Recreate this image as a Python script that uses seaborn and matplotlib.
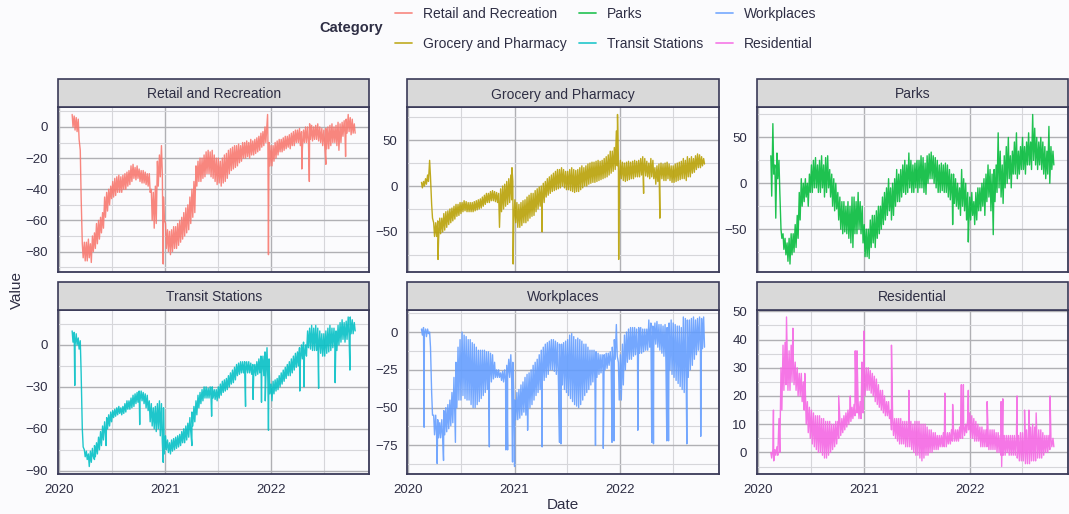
import pandas as pd
import numpy as np
import matplotlib
matplotlib.use("Agg")
import matplotlib.pyplot as plt
import matplotlib.dates as mdates
from matplotlib.ticker import MultipleLocator
from matplotlib.patches import Rectangle
from matplotlib.lines import Line2D
import seaborn as sns

# ---------------- data (weekly high / low readings + single-day spikes) ----------------
categories = ["Retail and Recreation", "Grocery and Pharmacy", "Parks",
              "Transit Stations", "Workplaces", "Residential"]
colors = ["#F8766D", "#B79F00", "#00BA38", "#00BFC4", "#619CFF", "#F564E3"]
y_steps = [20, 50, 50, 30, 25, 10]

week_start = "2020-02-15"      # first weekly reading
n_weeks = 140

retail_hi = [8, 7,
             6, 5, -15, -75, -74,  -74, -72, -75, -70,  -68, -62, -60, -58, -55,
             -45, -42, -40, -38,  -35, -33, -32, -31,  -32, -31, -30, -29, -28,
             -25, -24, -26, -25,  -27, -28, -28, -29, -30,  -30, -40, -42, -38,
             -22, -18, -12, -45,
             -62, -66, -67, -66, -64,  -64, -62, -60, -58,  -55, -52, -50, -45,
             -40, -35, -25, -22,  -20, -20, -18, -16, -15,  -16, -15, -18, -20,
             -20, -22, -20, -18, -17,  -15, -14, -13, -12,  -12, -11, -12, -10,
             -10, -9, -10, -8, -9,  -8, -7, -6, -4,  -3, 0, 2, -10,
             -12, -12, -10, -9, -8,  -8, -7, -6, -6,  -5, -4, -3, -2,
             -2, -1, -3, -2, 0,  0, 2, 1, 0,  1, 2, 0, -1,  -2, -1, 0, 1, 2,
             0, 1, 3, 2,  3, 4, 5, 8,  6, 5, 2]
retail_lo = [0, -2,
             -3, -8, -45, -84, -86,  -86, -84, -87, -80,  -78, -75, -72, -68, -65,
             -58, -54, -50, -46,  -45, -44, -42, -42,  -42, -40, -40, -38, -37,
             -35, -33, -34, -33,  -35, -36, -36, -37, -38,  -42, -60, -65, -62,
             -38, -32, -30, -60,
             -78, -80, -82, -80, -78,  -78, -76, -74, -72,  -70, -68, -66, -62,
             -58, -55, -38, -35,  -35, -33, -32, -30, -30,  -32, -33, -35, -37,
             -36, -38, -36, -35, -33,  -30, -28, -27, -26,  -25, -23, -22, -20,
             -20, -19, -20, -18, -18,  -17, -16, -15, -13,  -12, -10, -6, -25,
             -25, -22, -20, -18, -16,  -16, -15, -14, -13,  -14, -12, -12, -10,
             -10, -12, -14, -10, -10,  -10, -8, -9, -8,  -8, -9, -10, -12,
             -12, -14, -14, -12, -10,  -10, -12, -15, -10,  -6, -5, -4, -3,  -5, -4, -4]
retail_events = [("2020-12-25", -88), ("2021-12-20", 8), ("2021-12-23", -82),
                 ("2022-04-17", -27), ("2022-05-13", -35), ("2022-07-09", -24),
                 ("2022-09-15", -19)]

grocery_hi = [4, 5,
              8, 12, 28, -20, -40,  -40, -38, -35, -35,  -30, -28, -27, -25, -24,
              -22, -20, -20, -18,  -18, -16, -17, -18,  -18, -18, -17, -16, -15,
              -14, -12, -10, -8,  -8, -6, -5, -6, -7,  -8, -3, 0, 2,
              5, 8, 12, 5,
              -15, -18, -20, -18, -16,  -15, -12, -10, -8,  -8, -5, -3, -1,
              0, 3, 5, 8,  10, 12, 14, 16, 18,  18, 20, 18, 16,
              16, 18, 20, 18, 17,  18, 20, 22, 20,  22, 24, 25, 26,
              26, 27, 28, 27, 28,  30, 32, 34, 38,  38, 42, 60, 30,
              28, 26, 25, 26, 27,  26, 27, 28, 27,  28, 30, 32, 30,
              27, 25, 30, 28, 20,  22, 24, 25, 24,  25, 26, 24, 22,
              22, 24, 25, 26, 27,  30, 28, 32, 30,  32, 30, 33, 35,  34, 32, 30]
grocery_lo = [-2, 0,
              2, 5, 10, -35, -55,  -55, -58, -52, -50,  -48, -45, -42, -40, -38,
              -36, -33, -32, -30,  -28, -27, -28, -28,  -28, -28, -27, -26, -25,
              -24, -22, -20, -18,  -18, -16, -16, -17, -18,  -45, -28, -25, -22,
              -20, -18, -15, -40,
              -40, -45, -45, -43, -40,  -40, -38, -35, -33,  -32, -28, -25, -22,
              -22, -18, -12, -10,  -8, -6, -5, -4, -3,  -2, 0, -2, -4,
              -4, -5, -6, -7, -6,  -6, -4, -2, 0,  0, 2, 3, 4,
              4, 5, 6, 7, 8,  9, 10, 12, 14,  16, 18, 22, 5,
              8, 6, 5, 6, 7,  8, 8, 10, 10,  10, 12, 12, 11,
              10, 8, 10, 8, 2,  5, 6, 8, 6,  6, 8, 6, 4,
              4, 5, 6, 7, 8,  8, 6, 10, 10,  14, 15, 18, 20,  20, 22, 24]
grocery_events = [("2020-04-12", -80), ("2020-12-23", 20), ("2020-12-27", -85),
                  ("2021-04-06", -50), ("2021-12-22", 78), ("2021-12-26", -80),
                  ("2022-03-22", -8), ("2022-05-17", -35)]

parks_hi = [30, 65,
            20, 33, 25, -50, -55,  -60, -65, -60, -55,  -55, -45, -35, -10, 5,
            0, 5, 0, 10,  20, 25, 28, 20,  25, 30, 20, 28, 30,
            15, 10, 5, 0,  -10, -15, -20, -20, -25,  -20, -25, -15, -15,
            -20, -10, -20, -25,
            -45, -50, -50, -40, -35,  -35, -30, -25, -25,  -15, -10, -5, 5,
            -5, 0, 5, 15,  10, 15, 20, 25, 20,  33, 25, 20, 22,
            25, 25, 30, 28, 22,  30, 32, 34, 30,  28, 25, 20, 22,
            20, 22, 20, 15, 10,  10, 5, 0, -5,  15, 5, 0, -10,
            -15, -10, -20, -10, -5,  -5, 0, 5, 10,  20, 15, 10, 15,
            20, 55, 35, 20, 30,  40, 50, 30, 35,  45, 55, 35, 40,
            50, 40, 45, 55, 45,  75, 60, 50, 45,  50, 45, 40, 35,  62, 40, 35]
parks_lo = [-14, 10,
            -38, 5, -10, -60, -72,  -78, -85, -88, -78,  -75, -70, -60, -40, -25,
            -20, -15, -25, -10,  -10, -5, -5, -10,  -10, -5, -15, -10, -5,
            -15, -25, -30, -28,  -40, -50, -55, -53, -55,  -60, -65, -70, -55,
            -55, -50, -55, -65,
            -80, -80, -82, -70, -65,  -70, -60, -55, -50,  -45, -40, -35, -30,
            -40, -35, -25, -20,  -20, -15, -10, -12, -10,  -5, -10, -10, -5,
            -10, -5, -5, -10, -12,  0, 5, 5, 0,  -5, -10, -10, -8,
            -10, -10, -15, -18, -20,  -22, -25, -28, -35,  -25, -30, -40, -50,
            -40, -35, -45, -40, -30,  -30, -25, -35, -20,  -15, -30, -40, -20,
            -10, -5, -15, -22, -5,  0, 5, -5, 10,  10, 5, 10, 15,
            15, 10, 20, 20, 15,  25, 20, 15, 20,  15, 10, 5, 10,  0, 15, 20]
parks_events = [("2021-11-03", -45), ("2021-12-27", -64), ("2022-03-23", -56)]

transit_hi = [10, 9,
              8, 5, 3, -60, -75,  -76, -78, -76, -74,  -72, -70, -66, -62, -58,
              -55, -52, -50, -48,  -47, -46, -45, -44,  -45, -44, -42, -40, -40,
              -38, -36, -35, -34,  -33, -33, -34, -35, -36,  -40, -42, -45, -44,
              -42, -40, -42, -45,
              -65, -68, -70, -68, -67,  -66, -65, -64, -62,  -60, -58, -56, -52,
              -48, -44, -40, -36,  -34, -32, -30, -30, -31,  -30, -30, -32, -32,
              -30, -28, -26, -25, -24,  -22, -20, -18, -16,  -14, -13, -12, -12,
              -12, -12, -12, -13, -14,  -14, -12, -10, -8,  -8, -5, -2, -10,
              -28, -26, -25, -24, -22,  -20, -18, -16, -14,  -12, -10, -8, -6,
              -5, -2, 0, 2, 0,  10, 12, 14, 12,  14, 12, 10, 8,
              8, 10, 12, 14, 12,  12, 10, 14, 16,  18, 16, 17, 20,  20, 18, 16]
transit_lo = [2, 0,
              0, -3, -20, -73, -80,  -82, -87, -84, -80,  -80, -78, -75, -72, -68,
              -64, -60, -58, -55,  -52, -51, -50, -49,  -50, -49, -48, -46, -46,
              -45, -44, -42, -41,  -40, -40, -42, -45, -47,  -55, -58, -60, -62,
              -60, -65, -70, -78,
              -75, -77, -78, -76, -75,  -74, -73, -72, -70,  -70, -68, -66, -62,
              -58, -55, -50, -45,  -42, -40, -38, -38, -38,  -38, -38, -39, -40,
              -38, -36, -34, -33, -32,  -30, -28, -27, -25,  -22, -21, -20, -20,
              -20, -20, -20, -21, -22,  -22, -21, -20, -20,  -22, -24, -26, -35,
              -40, -35, -33, -32, -30,  -28, -26, -24, -22,  -22, -20, -18, -16,
              -15, -12, -10, -8, -8,  -2, -3, -4, -4,  -4, -6, -6, -8,
              -8, -6, -5, -4, -2,  -2, -4, 0, 2,  4, 2, 4, 6,  8, 8, 10]
transit_events = [("2020-02-24", -29), ("2020-05-02", -82), ("2020-06-11", -72),
                  ("2020-10-05", -57), ("2020-12-25", -84), ("2021-04-03", -72),
                  ("2021-06-10", -51), ("2021-10-05", -44), ("2021-10-31", -39),
                  ("2021-11-29", -41), ("2021-12-12", -40), ("2021-12-23", -61),
                  ("2022-04-10", -33), ("2022-04-25", -30), ("2022-06-14", -31),
                  ("2022-08-10", -27), ("2022-09-30", -18)]

work_hi = [2, 3,
           2, 2, 0, -40, -55,  -55, -58, -60, -58,  -52, -50, -48, -45, -40,
           -30, -20, -10, -5,  0, -2, -3, -5,  -5, -7, -8, -10, -12,
           -12, -12, -12, -13,  -13, -14, -15, -20, -25,  -25, -27, -26, -25,
           -22, -18, -15, -20,
           -45, -40, -38, -35, -33,  -30, -28, -27, -25,  -22, -20, -18, -15,
           -12, -10, -8, -7,  -6, -5, -5, -6, -7,  -8, -8, -7, -6,
           -5, -2, -1, -3, -5,  -4, -5, -6, -8,  -8, -10, -12, -12,
           -12, -13, -14, -15, -15,  -15, -14, -14, -13,  -10, -5, 5, -20,
           -15, -8, -2, 0, 2,  3, 3, 3, 2,  3, 3, 2, 2,
           2, 8, 6, 4, 6,  7, 5, 5, 4,  5, 3, 6, 8,
           6, 5, 4, 4, 3,  10, 9, 8, 8,  9, 10, 8, 9,  10, 9, 10]
work_lo = [-2, -1,
           -3, -1, -10, -55, -68,  -68, -70, -70, -70,  -68, -66, -64, -62, -60,
           -55, -50, -45, -45,  -42, -44, -45, -45,  -48, -50, -50, -48, -46,
           -44, -42, -40, -38,  -35, -33, -31, -30, -30,  -30, -32, -33, -32,
           -30, -30, -32, -40,
           -58, -58, -57, -55, -53,  -55, -52, -50, -48,  -45, -42, -40, -38,
           -35, -32, -30, -28,  -25, -25, -26, -28, -30,  -32, -35, -38, -40,
           -42, -44, -46, -48, -49,  -50, -48, -45, -42,  -40, -38, -35, -33,
           -32, -30, -28, -27, -26,  -25, -24, -22, -20,  -20, -18, -16, -45,
           -45, -35, -25, -20, -18,  -18, -16, -15, -15,  -14, -14, -13, -12,
           -12, -10, -10, -10, -8,  -10, -12, -14, -16,  -20, -22, -25, -28,
           -30, -32, -34, -36, -38,  -40, -35, -30, -25,  -22, -18, -15, -12,  -12, -11, -10]
work_events = [("2020-02-24", -63), ("2020-04-09", -87), ("2020-05-01", -85),
               ("2020-06-11", -73), ("2020-10-06", -76), ("2020-12-02", -78),
               ("2020-12-08", -78), ("2020-12-25", -86), ("2021-01-01", -89),
               ("2021-02-15", -65), ("2021-04-06", -76), ("2021-06-05", -73),
               ("2021-06-10", -74), ("2021-10-07", -75), ("2021-11-03", -77),
               ("2021-12-03", -73), ("2021-12-10", -72), ("2022-03-02", -65),
               ("2022-04-19", -73), ("2022-04-25", -74), ("2022-06-10", -72),
               ("2022-06-16", -72), ("2022-08-18", -74), ("2022-10-05", -69)]

resid_hi = [0, 1,
            1, 2, 12, 30, 38,  39, 38, 36, 38,  35, 32, 30, 28, 28,
            25, 22, 18, 16,  15, 14, 13, 13,  13, 12, 12, 11, 11,
            11, 10, 10, 11,  11, 12, 12, 13, 14,  15, 16, 16, 17,
            20, 18, 18, 20,
            31, 30, 30, 29, 28,  27, 26, 24, 22,  22, 20, 18, 18,
            15, 13, 12, 12,  12, 12, 11, 11, 11,  11, 11, 10, 11,
            11, 11, 10, 10, 10,  9, 8, 8, 7,  7, 6, 6, 6,
            7, 7, 7, 7, 8,  8, 8, 8, 9,  10, 10, 10, 12,
            14, 13, 12, 11, 10,  9, 9, 8, 8,  8, 8, 8, 8,
            7, 7, 6, 6, 6,  6, 6, 6, 6,  6, 6, 6, 7,
            7, 7, 8, 8, 9,  10, 9, 8, 8,  8, 7, 6, 6,  6, 5, 5]
resid_lo = [-2, -3,
            -1, -1, 0, 15, 22,  24, 22, 22, 25,  24, 22, 20, 20, 18,
            15, 10, 7, 5,  3, 2, 1, 0,  0, -1, -2, -2, -1,
            0, 1, 2, 3,  5, 6, 7, 8, 9,  10, 11, 12, 13,
            14, 12, 12, 14,
            20, 22, 22, 21, 20,  18, 17, 16, 15,  14, 13, 13, 12,
            8, 6, 5, 4,  3, 3, 3, 2, 2,  2, 1, 0, -1,
            -1, -2, -3, -2, -1,  -1, 0, 0, 1,  1, 1, 2, 2,
            2, 2, 3, 3, 4,  4, 4, 4, 5,  5, 6, 7, 8,
            5, 5, 4, 4, 4,  2, 2, 2, 2,  1, 1, 1, 1,
            0, 0, -1, -1, -1,  0, -1, -1, -1,  -1, -2, -3, -3,
            -3, -4, -4, -4, -3,  -3, -3, -2, -2,  -2, -1, 0, 0,  1, 2, 2]
resid_events = [("2020-02-24", 15), ("2020-04-09", 48), ("2020-05-01", 44),
                ("2020-06-11", 28), ("2020-10-06", 20), ("2020-11-15", 20),
                ("2020-12-02", 36), ("2020-12-08", 36), ("2020-12-25", 32),
                ("2021-01-01", 43), ("2021-04-06", 38), ("2021-06-05", 22),
                ("2021-10-07", 21), ("2021-11-03", 17), ("2021-12-03", 24),
                ("2021-12-10", 24), ("2021-12-27", 22), ("2022-03-02", 18),
                ("2022-04-19", 18), ("2022-04-21", -5), ("2022-04-25", 19),
                ("2022-06-13", 20), ("2022-07-09", 15), ("2022-07-24", 15),
                ("2022-08-18", 14), ("2022-10-05", 20)]

series = {
    "Retail and Recreation": (retail_hi, retail_lo, retail_events),
    "Grocery and Pharmacy": (grocery_hi, grocery_lo, grocery_events),
    "Parks": (parks_hi, parks_lo, parks_events),
    "Transit Stations": (transit_hi, transit_lo, transit_events),
    "Workplaces": (work_hi, work_lo, work_events),
    "Residential": (resid_hi, resid_lo, resid_events),
}

# ---------------- long table ----------------
hi_dates = pd.date_range(week_start, periods=n_weeks, freq="7D")
lo_dates = hi_dates + pd.Timedelta(days=3)
frames = []
for cat, (hi, lo, ev) in series.items():
    d = pd.concat([
        pd.DataFrame({"Date": hi_dates, "Value": hi}),
        pd.DataFrame({"Date": lo_dates, "Value": lo}),
        pd.DataFrame({"Date": pd.to_datetime([e[0] for e in ev]),
                      "Value": [e[1] for e in ev]}),
    ])
    d["Category"] = cat
    frames.append(d.sort_values("Date"))
df = pd.concat(frames, ignore_index=True)

# ---------------- style ----------------
BG = "#fbfbfd"
TXT = "#2e2e44"
BORDER = "#3a3a58"
sns.set_theme(style="white")
plt.rcParams["font.family"] = ["Liberation Sans", "DejaVu Sans"]
plt.rcParams["figure.facecolor"] = BG
plt.rcParams["savefig.facecolor"] = BG

g = sns.relplot(data=df, x="Date", y="Value", col="Category", hue="Category",
                col_order=categories, hue_order=categories, palette=colors,
                col_wrap=3, kind="line", estimator=None, sort=True,
                linewidth=1.0, alpha=0.88, legend=False, height=2, aspect=1.5,
                facet_kws=dict(sharey=False, sharex=True))
fig = g.figure
fig.set_size_inches(10.69, 5.14)
W, H = 1069, 514
ax_h = 164.5
fig.subplots_adjust(left=58 / W, right=1068 / W, top=1 - 107 / H, bottom=1 - 474 / H,
                    wspace=38 / 311, hspace=38 / ax_h)

dmin, dmax = df["Date"].min(), df["Date"].max()
span = dmax - dmin
xlim = (dmin - span * 0.05, dmax + span * 0.05)
strip_h = 28 / ax_h

for i, (ax, cat) in enumerate(zip(g.axes.flat, categories)):
    ax.set_facecolor(BG)
    vals = df.loc[df["Category"] == cat, "Value"]
    vr = vals.max() - vals.min()
    ax.set_ylim(vals.min() - 0.05 * vr, vals.max() + 0.05 * vr)
    ax.set_xlim(xlim)
    ax.yaxis.set_major_locator(MultipleLocator(y_steps[i]))
    ax.yaxis.set_minor_locator(MultipleLocator(y_steps[i] / 2))
    ax.xaxis.set_major_locator(mdates.YearLocator())
    ax.xaxis.set_major_formatter(mdates.DateFormatter("%Y"))
    ax.xaxis.set_minor_locator(mdates.MonthLocator(bymonth=7))
    ax.grid(which="major", color="#b0b0b4", lw=1.0)
    ax.grid(which="minor", color="#d6d6da", lw=0.8)
    ax.set_axisbelow(True)
    for s in ax.spines.values():
        s.set_visible(True)
        s.set_color(BORDER)
        s.set_linewidth(1.3)
    ax.tick_params(which="both", length=0, labelsize=9.5, labelcolor=TXT)
    ax.tick_params(axis="y", pad=7)
    ax.tick_params(axis="x", pad=7)
    ax.set_title("")
    ax.set_xlabel("")
    ax.set_ylabel("")
    ax.add_patch(Rectangle((0, 1), 1, strip_h, transform=ax.transAxes, clip_on=False,
                           facecolor="#d9d9d9", edgecolor=BORDER, lw=1.2, zorder=5))
    ax.text(0.5, 1 + strip_h / 2 - 1.5 / ax_h, cat, transform=ax.transAxes,
            ha="center", va="center", fontsize=10, color=TXT, zorder=6)

fig.text(17 / W, 1 - 290 / H, "Value", rotation=90, ha="center", va="center",
         fontsize=11, color=TXT)
fig.text(563 / W, 1 - 505 / H, "Date", ha="center", va="center", fontsize=11, color=TXT)

handles = [Line2D([], [], color=c, lw=1.3, alpha=0.8) for c in colors]
fig.legend(handles, categories, ncol=3, loc="upper left",
           bbox_to_anchor=(395 / W, 1 - 7 / H), frameon=False, fontsize=10,
           handlelength=1.22, handletextpad=0.8, columnspacing=0.9,
           labelspacing=1.15, borderpad=0, borderaxespad=0, labelcolor=TXT)
fig.text(319 / W, 1 - 28 / H, "Category", ha="left", va="center", fontsize=10.5,
         fontweight="bold", color=TXT)

fig.savefig("out.png", dpi=100, facecolor=BG)
